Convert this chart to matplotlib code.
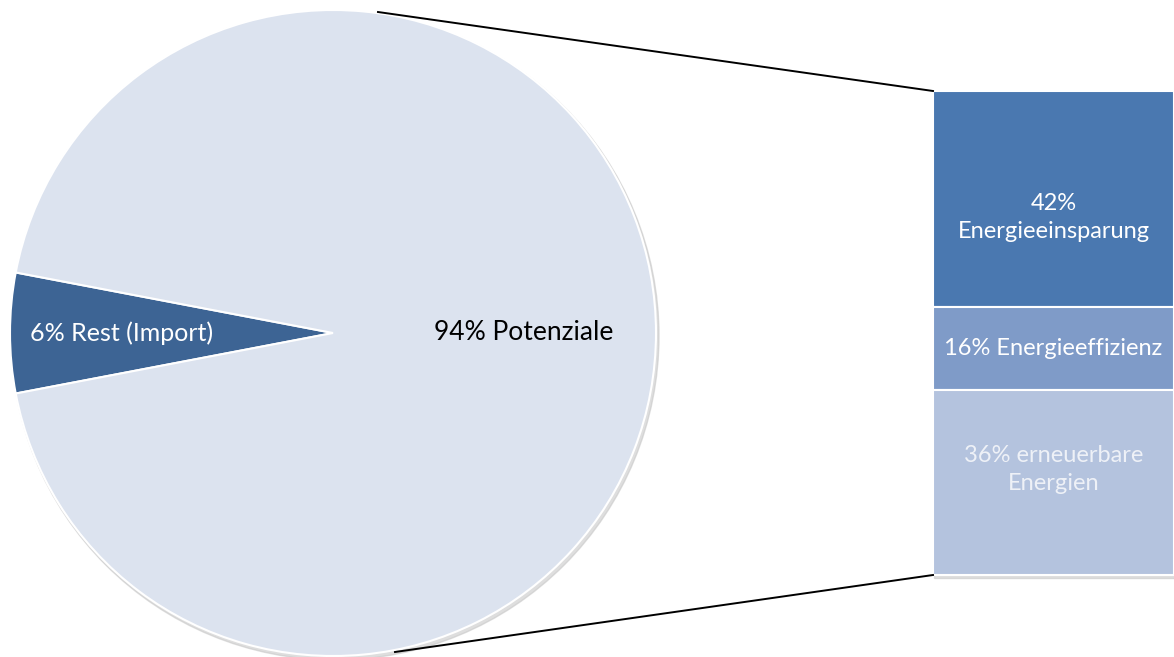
import matplotlib.pyplot as plt
from matplotlib.patches import Circle, Rectangle

# pie data
pie_labels = ['6% Rest (Import)', '94% Potenziale']
pie_values = [6, 94]
pie_colors = ['#3D6494', '#DCE3EF']

# breakdown of the 94% (stacked bar, top to bottom)
bar_labels = ['42%\nEnergieeinsparung', '16% Energieeffizienz', '36% erneuerbare\nEnergien']
bar_values = [42, 16, 36]
bar_colors = ['#4A78B0', '#7F9BC8', '#B4C3DE']
bar_text_colors = ['white', 'white', '#EEF1F7']

plt.rcParams['font.family'] = ['Lato', 'DejaVu Sans']

W, H = 1174, 657
fig = plt.figure(figsize=(W / 100, H / 100), dpi=100)
ax = fig.add_axes([0, 0, 1, 1])

# pie, in pixel coordinates
cx, cy, r = 333, H - 333, 323
ax.add_patch(Circle((cx + 2, cy - 3), r + 1, color='#C8C8C8', alpha=0.6, zorder=0))
half = pie_values[0] / sum(pie_values) * 360 / 2
wedges, _ = ax.pie(pie_values, colors=pie_colors, startangle=180 - half,
                   center=(cx, cy), radius=r, frame=True,
                   wedgeprops=dict(edgecolor='white', linewidth=1.5))
ax.set_xlim(0, W)
ax.set_ylim(0, H)
ax.set_aspect('equal')
ax.axis('off')

ax.text(122, cy, pie_labels[0], color='white', fontsize=18, ha='center', va='center')
ax.text(524, cy, pie_labels[1], color='black', fontsize=19, ha='center', va='center')

# stacked bar on the right
bx, bw = 933, 241
top, bottom = H - 91, H - 575
ax.add_patch(Rectangle((bx + 1, bottom - 3), bw, top - bottom, color='#C8C8C8',
                       alpha=0.6, zorder=0))
scale = (top - bottom) / sum(bar_values)
text_shift = [-18, 0, 13]
y = top
for lab, val, col, tc, dy in zip(bar_labels, bar_values, bar_colors,
                                 bar_text_colors, text_shift):
    h = val * scale
    ax.bar(bx, -h, width=bw, bottom=y, align='edge', color=col,
           edgecolor='white', linewidth=1.5)
    ax.text(bx + bw / 2, y - h / 2 + dy, lab, color=tc, fontsize=17,
            ha='center', va='center', linespacing=1.4)
    y -= h

# connector lines
ax.plot([378, bx], [H - 12, top], color='black', lw=1.4)
ax.plot([395, bx], [H - 652, bottom], color='black', lw=1.4)

fig.savefig('out.png', dpi=100)
